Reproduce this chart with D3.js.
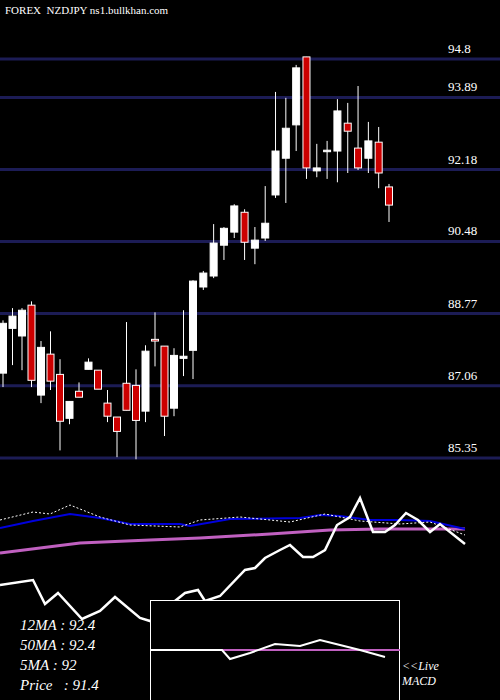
<!DOCTYPE html>
<html><head><meta charset="utf-8">
<script src="https://cdn.jsdelivr.net/npm/d3@7"></script>
<style>body{margin:0;background:#000}svg{display:block}</style>
</head><body><svg id="c" width="500" height="700"></svg>
<script>
const open_ = [87.36,88.42,88.24,88.97,86.84,87.81,87.33,86.29,86.93,87.45,87.43,86.65,86.32,87.12,87.07,86.46,88.16,88.00,86.53,87.71,87.90,89.40,89.66,90.39,90.70,91.17,90.32,90.56,91.58,92.45,93.24,94.85,92.15,92.62,92.62,93.28,92.69,92.45,92.83,91.77];
const close_ = [88.54,88.71,88.85,87.19,87.97,87.17,86.22,86.69,86.79,87.62,86.98,86.34,85.98,86.48,86.24,87.88,88.12,86.34,87.78,87.76,89.54,89.73,90.44,90.79,91.32,90.46,90.51,90.91,92.62,93.16,94.59,92.22,92.22,92.64,93.57,93.09,92.22,92.86,92.10,91.34];
const high_ = [88.61,88.90,88.90,89.06,88.12,88.35,87.69,86.69,87.14,87.71,87.43,86.96,86.32,88.57,87.45,88.02,88.80,88.00,87.95,88.85,89.56,89.78,90.89,90.82,91.36,91.24,90.82,91.79,94.02,93.88,94.66,94.85,92.79,92.86,93.85,93.76,94.16,93.31,93.19,91.84];
const low_ = [87.03,87.55,87.43,87.03,86.65,86.96,85.53,86.15,86.79,87.45,86.98,86.20,85.37,86.48,85.32,86.20,87.52,85.87,86.34,87.29,87.22,89.33,89.61,90.04,90.56,90.04,89.94,90.49,91.51,91.39,92.62,91.96,92.00,91.96,91.88,92.10,92.17,92.10,91.74,90.94];
const priceTicks = [94.8,93.89,92.18,90.48,88.77,87.06,85.35];
// lower panel (units: height above panel bottom)
const maX = [0,33,70,100,130,180,190,230,300,320,340,370,400,430,465];
const ma12 = [172,179,186,182,176,176,174,181,182,185,184,180,180,179,171];
const dotX = [0,33,50,70,100,130,180,200,240,290,325,360,400,430,465];
const ma5 = [180,188,186,195,183,175,173,180,183,178,186,179,176,178,165];
const ma50X = [0,80,150,200,270,330,380,465];
const ma50 = [147,157,160,162,166,170,171,171];
const pX = [0,33,45,58,82,100,115,140,150,185,198,205,220,245,255,265,280,290,303,313,325,337,350,360,373,385,395,406,418,430,440,465];
const pV = [115,120,96,107,81,89,103,82,79,107,110,99,104,130,132,142,150,155,143,143,150,175,183,202,168,168,175,187,180,168,176,156];
const macdX = [150,222,230,250,275,300,320,340,360,385];
const macd = [50,50,41,47,56,54,60,55,50,43];
const labels = ["12MA : 92.4","50MA : 92.4","5MA : 92","Price   : 91.4"];

const svg = d3.select("#c");
const y = d3.scaleLinear().domain([85.35,94.8]).range([458,59]);
const x = d3.scaleLinear().domain([0,20,39]).range([3,193,389]);
const ly = d3.scaleLinear().domain([0,210]).range([700,490]);
const lx = d3.scaleLinear().domain([0,500]).range([0,500]);
const my = d3.scaleLinear().domain([0,100]).range([700,600]);

svg.selectAll(".g").data(priceTicks).enter().append("line")
 .attr("x1",0).attr("x2",500).attr("y1",d=>y(d)).attr("y2",d=>y(d))
 .attr("stroke","#1c1c55").attr("stroke-width",3);
svg.selectAll(".t").data(priceTicks).enter().append("text")
 .attr("x",448).attr("y",d=>y(d)-6).text(d=>d)
 .attr("fill","#fff").attr("font-family","Liberation Serif").attr("font-size",13);
svg.append("text").attr("x",5).attr("y",14).text("FOREX  NZDJPY ns1.bullkhan.com")
 .attr("fill","#fff").attr("font-family","Liberation Serif").attr("font-size",11).attr("xml:space","preserve");

const idx = d3.range(open_.length);
svg.selectAll(".w").data(idx).enter().append("line")
 .attr("x1",i=>x(i)).attr("x2",i=>x(i)).attr("y1",i=>y(high_[i])).attr("y2",i=>y(low_[i]))
 .attr("stroke","#fff").attr("stroke-width",1);
svg.selectAll(".b").data(idx).enter().append("rect")
 .attr("x",i=>x(i)-3.5).attr("width",7)
 .attr("y",i=>y(Math.max(open_[i],close_[i])))
 .attr("height",i=>Math.max(1.5,Math.abs(y(open_[i])-y(close_[i]))))
 .attr("fill",i=>close_[i]<open_[i]?"#cc0000":"#fff")
 .attr("stroke","#fff").attr("stroke-width",1);

const line = (xs,scY)=>d3.line().x((d,i)=>lx(xs[i])).y(d=>scY(d));
svg.append("path").datum(ma50).attr("d",line(ma50X,ly)).attr("fill","none").attr("stroke","#c060c0").attr("stroke-width",3);
svg.append("path").datum(ma12).attr("d",line(maX,ly)).attr("fill","none").attr("stroke","#0000dd").attr("stroke-width",2);
svg.append("path").datum(ma5).attr("d",line(dotX,ly)).attr("fill","none").attr("stroke","#fff").attr("stroke-width",1).attr("stroke-dasharray","2,2");
svg.append("path").datum(pV).attr("d",line(pX,ly)).attr("fill","none").attr("stroke","#fff").attr("stroke-width",2.5);

svg.append("rect").attr("x",150.5).attr("y",600.5).attr("width",249).attr("height",110).attr("fill","#000").attr("stroke","#fff");
svg.append("line").attr("x1",222).attr("x2",400).attr("y1",my(50)).attr("y2",my(50)).attr("stroke","#c060c0").attr("stroke-width",2);
svg.append("path").datum(macd).attr("d",line(macdX,my)).attr("fill","none").attr("stroke","#fff").attr("stroke-width",2);

svg.selectAll(".l").data(labels).enter().append("text")
 .attr("x",20).attr("y",(d,i)=>630+i*20).text(d=>d).attr("xml:space","preserve").style("white-space","pre")
 .attr("fill","#fff").attr("font-family","Liberation Serif").attr("font-style","italic").attr("font-size",15);
svg.append("text").attr("x",402).attr("y",670).text("<<Live").attr("fill","#fff").attr("font-family","Liberation Serif").attr("font-style","italic").attr("font-size",12);
svg.append("text").attr("x",402).attr("y",685).text("MACD").attr("fill","#fff").attr("font-family","Liberation Serif").attr("font-style","italic").attr("font-size",12);
</script></body></html>
